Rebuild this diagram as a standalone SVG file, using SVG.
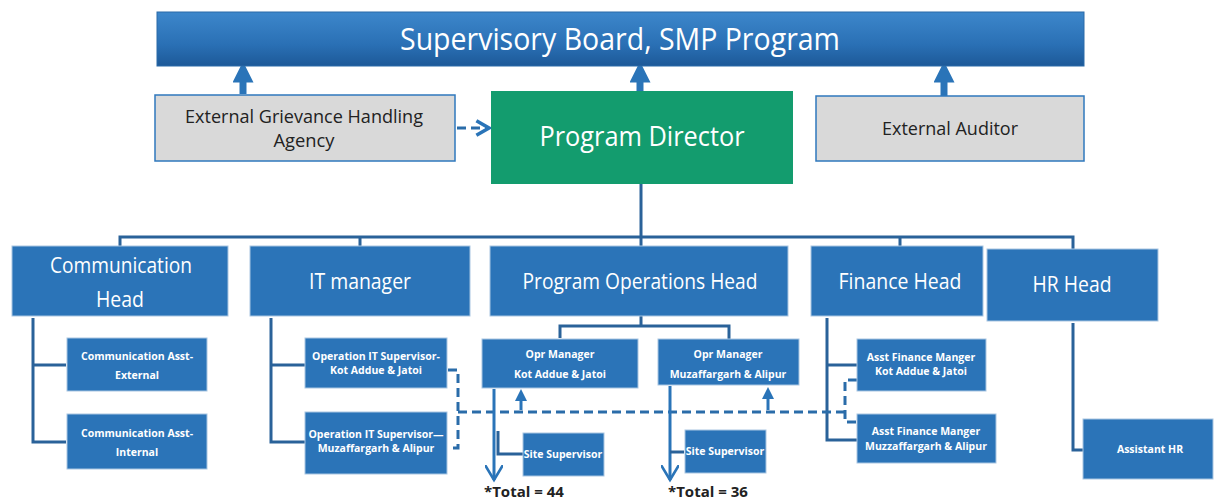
<svg xmlns="http://www.w3.org/2000/svg" width="1214" height="501" viewBox="0 0 1214 501">
<defs>
<linearGradient id="gb" x1="0" y1="0" x2="0" y2="1">
<stop offset="0" stop-color="#3d87cb"/>
<stop offset="0.6" stop-color="#2a70b5"/>
<stop offset="1" stop-color="#1d5998"/>
</linearGradient>
<marker id="ah" viewBox="0 0 10 10" refX="5" refY="5" markerWidth="3" markerHeight="3" orient="auto-start-reverse">
<path d="M0,0 L10,5 L0,10 z" fill="#2a74b8"/>
</marker>
<marker id="ahs" viewBox="0 0 10 10" refX="5" refY="5" markerWidth="4" markerHeight="4" orient="auto">
<path d="M0,0 L10,5 L0,10 z" fill="#2a74b8"/>
</marker>
<marker id="av" viewBox="0 0 12 12" refX="10" refY="6" markerWidth="6" markerHeight="6" orient="auto">
<path d="M0,0 L10,6 L0,12" fill="none" stroke="#2a74b8" stroke-width="1.8"/>
</marker>
<marker id="ad" viewBox="0 0 10 10" refX="8" refY="5" markerWidth="6" markerHeight="6" orient="auto">
<path d="M1,1 L8,5 L1,9" fill="none" stroke="#2a74b8" stroke-width="2"/>
</marker>
</defs>
<style>
.blue{fill:#2b74b8;stroke:#a9c6e2;stroke-width:1}
.gray{fill:#d9d9d9;stroke:#2f78bd;stroke-width:1.5}
.ln{fill:none;stroke:#2a6299;stroke-width:3}
.dl{fill:none;stroke:#2a6ca9;stroke-width:3;stroke-dasharray:9,5}
.t{font-family:"Open Sans","Liberation Sans",sans-serif;fill:#ffffff;text-anchor:middle}
.g{font-family:"Open Sans","Liberation Sans",sans-serif;fill:#222222;text-anchor:middle;font-size:18px}
.s{font-family:"Open Sans","Liberation Sans",sans-serif;fill:#ffffff;text-anchor:middle;font-size:10.5px;font-weight:bold}
.tot{font-family:"Open Sans","Liberation Sans",sans-serif;fill:#222222;font-size:15px;font-weight:bold}
</style>

<g id="connectors">
<line x1="243" y1="94" x2="243" y2="72" stroke="#2a74b8" stroke-width="7" marker-end="url(#ah)"/>
<line x1="640" y1="91" x2="640" y2="72" stroke="#2a74b8" stroke-width="7" marker-end="url(#ah)"/>
<line x1="944" y1="96" x2="944" y2="72" stroke="#2a74b8" stroke-width="7" marker-end="url(#ah)"/>
<line x1="457" y1="128" x2="489" y2="128" class="dl" stroke-dasharray="6,4" marker-end="url(#ad)"/>
<path class="ln" d="M641,184 V237 M120,246 V237 H1073 V249 M360,237 V246 M641,237 V246 M900,237 V246"/>
<path class="ln" d="M33,318 V442 H66 M33,365 H66"/>
<path class="ln" d="M271,318 V442 H305 M271,365 H305"/>
<path class="ln" d="M641,316 V326 M560,338 V326 H729 V339"/>
<path class="ln" d="M827,318 V440 H857 M827,365 H857"/>
<path class="ln" d="M1073,323 V450 H1083"/>
<path class="dl" d="M448,370 H458 V448 H448"/>
<path class="dl" d="M458,412 H845"/>
<path class="dl" d="M857,380 H845 V422 H857"/>
<line x1="521" y1="410" x2="521" y2="395" stroke="#2a74b8" stroke-width="3" marker-end="url(#ahs)"/>
<line x1="768" y1="410" x2="768" y2="393" stroke="#2a74b8" stroke-width="3" marker-end="url(#ahs)"/>
<line x1="494" y1="389" x2="494" y2="480" stroke="#2a74b8" stroke-width="3" marker-end="url(#av)"/>
<path class="ln" d="M498,431 V454 H523" stroke="#2a74b8"/>
<line x1="670" y1="386" x2="670" y2="480" stroke="#2a74b8" stroke-width="3" marker-end="url(#av)"/>
<path class="ln" d="M670,452 H684" stroke="#2a74b8"/>
</g>

<g id="board">
<rect x="157" y="12" width="927" height="54" fill="url(#gb)" stroke="#2a6aa8"/>
<text class="t" x="620" y="50" font-size="31" textLength="440" lengthAdjust="spacingAndGlyphs">Supervisory Board, SMP Program</text>
</g>
<g id="grievance">
<rect class="gray" x="155" y="95" width="300" height="66"/>
<text class="g" x="304" y="123" textLength="238" lengthAdjust="spacingAndGlyphs">External Grievance Handling</text>
<text class="g" x="304" y="147" textLength="61" lengthAdjust="spacingAndGlyphs">Agency</text>
</g>
<g id="director">
<rect x="491" y="91" width="302" height="93" fill="#139c6e"/>
<text class="t" x="642" y="146" font-size="28" textLength="205" lengthAdjust="spacingAndGlyphs">Program Director</text>
</g>
<g id="auditor">
<rect class="gray" x="816" y="96" width="268" height="65"/>
<text class="g" x="950" y="135" textLength="136" lengthAdjust="spacingAndGlyphs">External Auditor</text>
</g>

<g id="comm-head">
<rect class="blue" x="12" y="246" width="216" height="70"/>
<text class="t" x="121" y="273" font-size="21" textLength="142" lengthAdjust="spacingAndGlyphs">Communication</text>
<text class="t" x="120" y="307" font-size="21" textLength="48" lengthAdjust="spacingAndGlyphs">Head</text>
</g>
<g id="it-manager">
<rect class="blue" x="250" y="246" width="220" height="70"/>
<text class="t" x="360" y="289" font-size="21" textLength="102" lengthAdjust="spacingAndGlyphs">IT manager</text>
</g>
<g id="ops-head">
<rect class="blue" x="490" y="246" width="298" height="70"/>
<text class="t" x="640" y="289" font-size="21" textLength="235" lengthAdjust="spacingAndGlyphs">Program Operations Head</text>
</g>
<g id="finance-head">
<rect class="blue" x="811" y="246" width="172" height="70"/>
<text class="t" x="900" y="289" font-size="21" textLength="123" lengthAdjust="spacingAndGlyphs">Finance Head</text>
</g>
<g id="hr-head">
<rect class="blue" x="987" y="249" width="171" height="72"/>
<text class="t" x="1072" y="292" font-size="21" textLength="79" lengthAdjust="spacingAndGlyphs">HR Head</text>
</g>

<g id="comm-ext">
<rect class="blue" x="67" y="338" width="140" height="53"/>
<text class="s" x="137" y="360">Communication Asst-</text>
<text class="s" x="137" y="379">External</text>
</g>
<g id="comm-int">
<rect class="blue" x="67" y="414" width="140" height="55"/>
<text class="s" x="137" y="437">Communication Asst-</text>
<text class="s" x="137" y="456">Internal</text>
</g>
<g id="it-kot">
<rect class="blue" x="305" y="338" width="142" height="50"/>
<text class="s" x="376" y="360">Operation IT Supervisor-</text>
<text class="s" x="376" y="374">Kot Addue &amp; Jatoi</text>
</g>
<g id="it-muz">
<rect class="blue" x="305" y="412" width="142" height="62"/>
<text class="s" x="376" y="438">Operation IT Supervisor—</text>
<text class="s" x="376" y="452">Muzaffargarh &amp; Alipur</text>
</g>
<g id="opr-kot">
<rect class="blue" x="482" y="339" width="156" height="49"/>
<text class="s" x="560" y="358">Opr Manager</text>
<text class="s" x="560" y="378">Kot Addue &amp; Jatoi</text>
</g>
<g id="opr-muz">
<rect class="blue" x="658" y="339" width="141" height="46"/>
<text class="s" x="728" y="358">Opr Manager</text>
<text class="s" x="728" y="378">Muzaffargarh &amp; Alipur</text>
</g>
<g id="site-1">
<rect class="blue" x="523" y="433" width="81" height="43"/>
<text class="s" x="563" y="458">Site Supervisor</text>
</g>
<g id="site-2">
<rect class="blue" x="685" y="430" width="81" height="43"/>
<text class="s" x="725" y="455">Site Supervisor</text>
</g>
<g id="fin-kot">
<rect class="blue" x="857" y="339" width="129" height="52"/>
<text class="s" x="921" y="361">Asst Finance Manger</text>
<text class="s" x="921" y="375">Kot Addue &amp; Jatoi</text>
</g>
<g id="fin-muz">
<rect class="blue" x="857" y="414" width="139" height="49"/>
<text class="s" x="926" y="435">Asst Finance Manger</text>
<text class="s" x="926" y="450">Muzzaffargarh &amp; Alipur</text>
</g>
<g id="asst-hr">
<rect class="blue" x="1083" y="419" width="130" height="60"/>
<text class="s" x="1150" y="453">Assistant HR</text>
</g>

<text class="tot" x="484" y="497">*Total = 44</text>
<text class="tot" x="668" y="497">*Total = 36</text>
</svg>
